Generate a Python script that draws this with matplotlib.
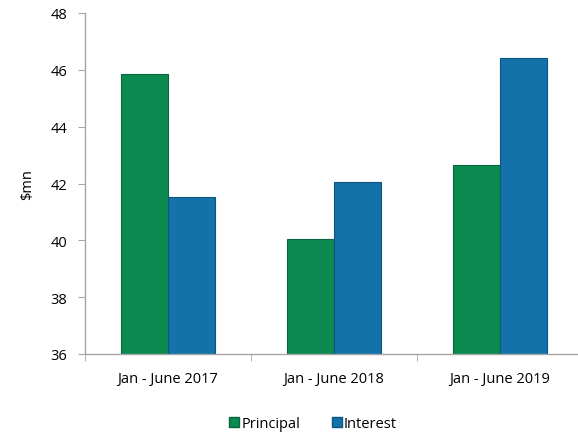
import matplotlib.pyplot as plt
import numpy as np
from matplotlib.lines import Line2D

periods = ["Jan - June 2017", "Jan - June 2018", "Jan - June 2019"]
principal = [45.87, 40.06, 42.65]
interest = [41.51, 42.06, 46.42]
yticks = [36, 38, 40, 42, 44, 46, 48]

green = "#0b8a50"
blue = "#1372a9"
grey = "#a6a6a6"

plt.rcParams["font.family"] = ["Open Sans", "DejaVu Sans"]

fig = plt.figure(figsize=(5.78, 4.39), dpi=100)
ax = fig.add_axes([85 / 578, 1 - 355 / 439, 498 / 578, 341 / 439])

x = np.arange(len(periods))
w = 0.285
ax.bar(x - w / 2, principal, w, bottom=0, color=green, edgecolor="#07663b", linewidth=0.8)
ax.bar(x + w / 2, interest, w, bottom=0, color=blue, edgecolor="#0d5480", linewidth=0.8)

ax.set_ylim(36, 48)
ax.set_xlim(-0.5, 2.5)
ax.set_yticks(yticks)
ax.set_yticklabels([str(t) for t in yticks], fontsize=10.5)
ax.set_xticks(x)
ax.set_xticklabels(periods, fontsize=10.5)
ax.tick_params(axis="x", length=0, pad=12)
ax.set_xticks([-0.5, 0.5, 1.5], minor=True)
ax.tick_params(axis="x", which="minor", length=5, color=grey, direction="out")
ax.tick_params(axis="y", length=5, color=grey, direction="out", pad=8)

for s in ["top", "right"]:
    ax.spines[s].set_visible(False)
for s in ["left", "bottom"]:
    ax.spines[s].set_color(grey)
    ax.spines[s].set_linewidth(1.0)

ax.set_ylabel("$mn", fontsize=10.5, labelpad=11)

handles = [
    Line2D([], [], marker="s", linestyle="", markersize=7, markerfacecolor=green,
           markeredgecolor="#07663b", label="Principal"),
    Line2D([], [], marker="s", linestyle="", markersize=7, markerfacecolor=blue,
           markeredgecolor="#0d5480", label="Interest"),
]
fig.legend(handles=handles, loc="center", bbox_to_anchor=(312 / 578, 1 - 425 / 439),
           ncol=2, frameon=False, fontsize=10.5, handletextpad=0.0,
           columnspacing=2.0, handlelength=1.0)

fig.savefig("out.png", dpi=100)
